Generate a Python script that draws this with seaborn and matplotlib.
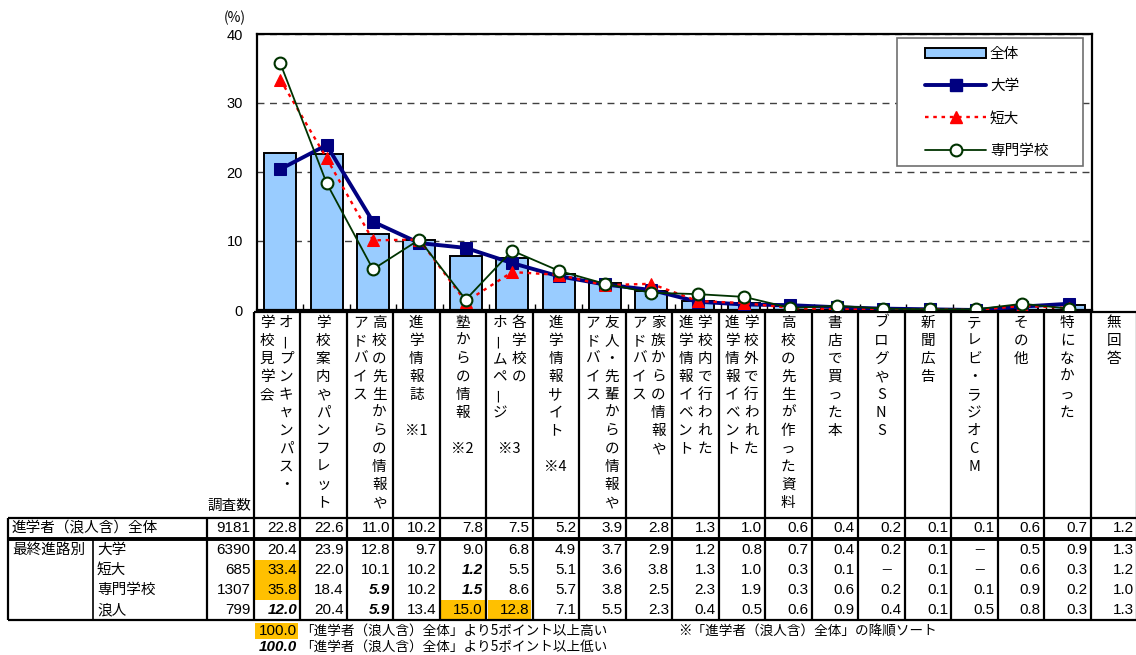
import numpy as np
import pandas as pd
import matplotlib
matplotlib.use("Agg")
import matplotlib.pyplot as plt
import seaborn as sns
from matplotlib.patches import Patch, Rectangle
from matplotlib.lines import Line2D

# ---------------- data ----------------
categories = [
    "オープンキャンパス・学校見学会", "学校案内やパンフレット", "高校の先生からの情報やアドバイス",
    "進学情報誌※1", "塾からの情報※2", "各学校のホームページ※3", "進学情報サイト※4",
    "友人・先輩からの情報やアドバイス", "家族からの情報やアドバイス", "学校内で行われた進学情報イベント",
    "学校外で行われた進学情報イベント", "高校の先生が作った資料", "書店で買った本", "ブログやSNS",
    "新聞広告", "テレビ・ラジオCM", "その他", "特になかった", "無回答",
]
header_lines = [
    ["オープンキャンパス・", "学校見学会"],
    ["学校案内やパンフレット"],
    ["高校の先生からの情報や", "アドバイス"],
    ["進学情報誌"],
    ["塾からの情報"],
    ["各学校の", "ホームページ"],
    ["進学情報サイト"],
    ["友人・先輩からの情報や", "アドバイス"],
    ["家族からの情報や", "アドバイス"],
    ["学校内で行われた", "進学情報イベント"],
    ["学校外で行われた", "進学情報イベント"],
    ["高校の先生が作った資料"],
    ["書店で買った本"],
    ["ブログやSNS"],
    ["新聞広告"],
    ["テレビ・ラジオCM"],
    ["その他"],
    ["特になかった"],
    ["無回答"],
]
header_notes = ["", "", "", "※1", "※2", "※3", "※4"] + [""] * 12

overall = [22.8, 22.6, 11.0, 10.2, 7.8, 7.5, 5.2, 3.9, 2.8, 1.3, 1.0, 0.6, 0.4, 0.2, 0.1, 0.1, 0.6, 0.7, 1.2]
university = [20.4, 23.9, 12.8, 9.7, 9.0, 6.8, 4.9, 3.7, 2.9, 1.2, 0.8, 0.7, 0.4, 0.2, 0.1, None, 0.5, 0.9, 1.3]
junior_college = [33.4, 22.0, 10.1, 10.2, 1.2, 5.5, 5.1, 3.6, 3.8, 1.3, 1.0, 0.3, 0.1, None, 0.1, None, 0.6, 0.3, 1.2]
vocational = [35.8, 18.4, 5.9, 10.2, 1.5, 8.6, 5.7, 3.8, 2.5, 2.3, 1.9, 0.3, 0.6, 0.2, 0.1, 0.1, 0.9, 0.2, 1.0]
ronin = [12.0, 20.4, 5.9, 13.4, 15.0, 12.8, 7.1, 5.5, 2.3, 0.4, 0.5, 0.6, 0.9, 0.4, 0.1, 0.5, 0.8, 0.3, 1.3]

total_label = "進学者（浪人含）全体"
group_label = "最終進路別"
row_names = ["大学", "短大", "専門学校", "浪人"]
sample_total = 9181
sample_sizes = [6390, 685, 1307, 799]
legend_labels = ["全体", "大学", "短大", "専門学校"]
n_chart = 18
y_ticks = [0, 10, 20, 30, 40]

# ---------------- style ----------------
W, H = 1136, 655
sns.set_theme(style="white")
JP = ["Noto Sans CJK JP", "DejaVu Sans"]
LAT = ["Liberation Sans", "Noto Sans CJK JP", "DejaVu Sans"]
NUM = ["Liberation Sans Narrow", "Liberation Sans", "DejaVu Sans"]
plt.rcParams["font.family"] = LAT
plt.rcParams["axes.unicode_minus"] = False

BAR = "#99CCFF"
NAVY = "#000080"
RED = "#FF0000"
GREEN = "#003300"
YELLOW = "#FFC000"

fig = plt.figure(figsize=(W / 100, H / 100), dpi=100)
fig.patch.set_facecolor("white")

ax_l, ax_r, ax_t, ax_b = 257, 1092, 34, 310
ax = fig.add_axes([ax_l / W, 1 - ax_b / H, (ax_r - ax_l) / W, (ax_b - ax_t) / H])


def clean(v):
    return [0.0 if a is None else a for a in v[:n_chart]]


df = pd.DataFrame({"category": categories[:n_chart], "value": overall[:n_chart]})
sns.barplot(data=df, x="category", y="value", color=BAR, saturation=1,
            edgecolor="black", linewidth=1.4, width=0.69, ax=ax, zorder=2)

xpos = np.arange(n_chart)
sns.lineplot(x=xpos, y=clean(university), ax=ax, color=NAVY, linewidth=2.8,
             marker="s", markersize=8, markeredgecolor=NAVY, zorder=4, legend=False)
sns.lineplot(x=xpos, y=clean(junior_college), ax=ax, color=RED, linewidth=1.7,
             linestyle=(0, (1.5, 2)), marker="^", markersize=9, markeredgecolor=RED,
             zorder=5, legend=False)
sns.lineplot(x=xpos, y=clean(vocational), ax=ax, color=GREEN, linewidth=1.3,
             marker="o", markersize=8.5, markerfacecolor="white", markeredgecolor=GREEN,
             markeredgewidth=1.5, zorder=6, legend=False)

ax.set_xlim(-0.5, n_chart - 0.5)
ax.set_ylim(0, 40)
ax.set_yticks(y_ticks)
ax.set_xticks([])
ax.set_xticks(np.arange(0.5, n_chart - 1, 1), minor=True)
ax.tick_params(axis="x", which="minor", direction="in", length=4, width=1,
               bottom=True, color="black", labelbottom=False)
ax.tick_params(axis="y", labelsize=10.5, pad=10, length=0, colors="black")
ax.set_xlabel("")
ax.set_ylabel("")
ax.yaxis.grid(True, color="#404040", linestyle=(0, (5, 4)), linewidth=1.0)
ax.set_axisbelow(True)
for s in ax.spines.values():
    s.set_color("black")
    s.set_linewidth(1.6)

# legend
handles = [
    Patch(facecolor=BAR, edgecolor="black", linewidth=1.4),
    Line2D([], [], color=NAVY, lw=2.8, marker="s", ms=8),
    Line2D([], [], color=RED, lw=1.7, ls=(0, (1.5, 2)), marker="^", ms=9),
    Line2D([], [], color=GREEN, lw=1.3, marker="o", ms=8.5, mfc="white", mec=GREEN, mew=1.5),
]
frame = Rectangle((897 / W, 1 - 166 / H), (1083 - 897) / W, (166 - 38) / H,
                  transform=fig.transFigure, facecolor="white", edgecolor="#707070",
                  lw=1.2, zorder=6.5, clip_on=False)
ax.add_artist(frame)
leg = ax.legend(handles, legend_labels, loc="upper left",
                bbox_to_anchor=(925 / W, 1 - 47 / H), bbox_transform=fig.transFigure,
                frameon=False, prop={"family": JP, "size": 10.5}, handlelength=4.2,
                handletextpad=0.25, labelspacing=1.25, borderpad=0, borderaxespad=0,
                numpoints=1)
leg.set_zorder(7)
for t in leg.get_texts():
    t.set_color("black")

# ---------------- overlay (header labels + table) ----------------
ov = fig.add_axes([0, 0, 1, 1], zorder=-1)
ov.set_xlim(0, W)
ov.set_ylim(H, 0)
ov.set_axis_off()


def hline(x0, x1, y, lw=1.5):
    ov.plot([x0, x1], [y, y], color="black", lw=lw, solid_capstyle="butt")


def vline(x, y0, y1, lw=1.5):
    ov.plot([x, x], [y0, y1], color="black", lw=lw, solid_capstyle="butt")


ov.text(235, 18, "(%)", family=JP, fontsize=10, ha="center", va="center", color="black")

col_w = 46.5
x_left = 8
x_sub = 93
x_n = 207


def col_edge(k):
    return x_n + col_w * k


n_cols = len(categories)
# header labels (vertical writing)
y_first, pitch = 323, 18
for i, lines in enumerate(header_lines):
    cx = col_edge(i + 1) + col_w / 2
    xs = [cx] if len(lines) == 1 else [cx + 9.5, cx - 9.5]
    for line, lx in zip(lines, xs):
        for k, ch in enumerate(line):
            rot = 90 if ch == "ー" else 0
            ov.text(lx, y_first + pitch * k, ch, family=JP, fontsize=10.5, ha="center",
                    va="center", rotation=rot, color="black")
    if header_notes[i]:
        maxlen = max(len(s) for s in lines)
        ov.text(cx, y_first + pitch * (maxlen + 1), header_notes[i], family=JP, fontsize=10.5,
                ha="center", va="center", color="black")

ov.text(col_edge(1) - 2, 506, "調査数", family=JP, fontsize=10.5, ha="right", va="center", color="black")

# grid of table
hdr_top, hdr_bot = 312, 518
r1_bot = 538.5
rows_top = 540
row_h = 20
tbl_bot = 620
hline(col_edge(1), W, hdr_top, 1.6)
for k in range(1, n_cols + 2):
    vline(col_edge(k), hdr_top, tbl_bot, 1.6)
hline(x_left, W, hdr_bot, 1.6)
hline(x_left, W, r1_bot, 2.8)
hline(x_left, W, tbl_bot, 1.6)
vline(x_left, hdr_bot, tbl_bot, 1.6)
vline(x_n, hdr_bot, tbl_bot, 1.6)
vline(x_sub, r1_bot, tbl_bot, 1.2)

# row 1
y1 = 528
ov.text(12, y1, total_label, family=JP, fontsize=10.5, ha="left", va="center", color="black")
ov.text(col_edge(1) - 3, y1, f"{sample_total}", family=NUM, fontsize=11, ha="right",
        va="center", color="black")
for i, v in enumerate(overall):
    ov.text(col_edge(i + 2) - 3, y1, f"{v:.1f}", family=NUM, fontsize=11, ha="right",
            va="center", color="black")

# group rows
ov.text(12, rows_top + row_h / 2, group_label, family=JP, fontsize=10.5, ha="left",
        va="center", color="black")
for r, (name, vals, n) in enumerate(zip(row_names, [university, junior_college, vocational, ronin],
                                         sample_sizes)):
    top = rows_top + row_h * r
    yc = top + row_h / 2
    ov.text(97, yc, name, family=JP, fontsize=10.5, ha="left", va="center", color="black")
    ov.text(col_edge(1) - 3, yc, f"{n}", family=NUM, fontsize=11, ha="right", va="center",
            color="black")
    for i, v in enumerate(vals):
        xr = col_edge(i + 2)
        if v is None:
            ov.text(xr - 12, yc, "－", family=JP, fontsize=9, ha="right", va="center", color="black")
            continue
        diff = v - overall[i]
        weight, style = "normal", "normal"
        if diff >= 5:
            ov.add_patch(Rectangle((xr - col_w + 1.5, top), col_w - 3, row_h if r < 3 else tbl_bot - top - 1,
                                   facecolor=YELLOW, edgecolor="none", zorder=0))
        elif diff <= -5:
            weight, style = "bold", "italic"
        ov.text(xr - 3, yc, f"{v:.1f}", family=NUM, fontsize=11, ha="right", va="center",
                color="black", fontweight=weight, fontstyle=style)

# footnotes
ov.add_patch(Rectangle((255, 623), 43, 16, facecolor=YELLOW, edgecolor="none"))
ov.text(297, 631, "100.0", family=NUM, fontsize=11, ha="right", va="center", color="black")
ov.text(300, 631, "「進学者（浪人含）全体」より5ポイント以上高い", family=JP, fontsize=9.8,
        ha="left", va="center", color="black")
ov.text(297, 647, "100.0", family=NUM, fontsize=11, ha="right", va="center", color="black",
        fontweight="bold", fontstyle="italic")
ov.text(300, 647, "「進学者（浪人含）全体」より5ポイント以上低い", family=JP, fontsize=9.8,
        ha="left", va="center", color="black")
ov.text(678, 631, "※「進学者（浪人含）全体」の降順ソート", family=JP, fontsize=9.8,
        ha="left", va="center", color="black")

fig.savefig("out.png", dpi=100, facecolor="white")
